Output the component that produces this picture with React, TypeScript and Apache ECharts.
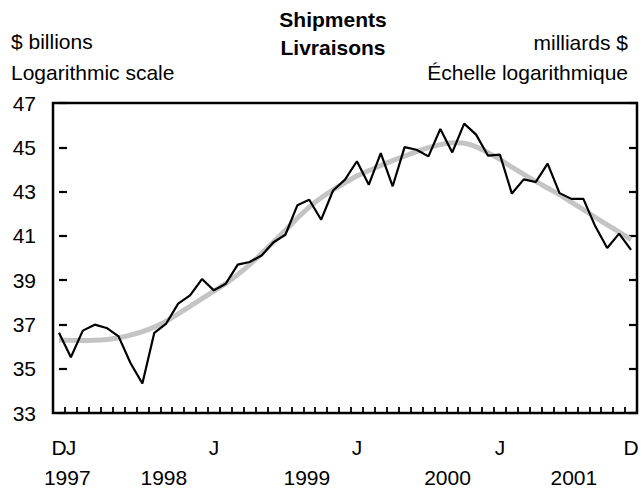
import React, { useEffect, useRef } from 'react';
import * as echarts from 'echarts';

// Monthly categories, Dec 1997 to Dec 2001
const months: string[] = (() => {
  const out: string[] = ['1997-12'];
  for (let y = 1998; y <= 2001; y++) {
    for (let m = 1; m <= 12; m++) out.push(`${y}-${m < 10 ? '0' + m : m}`);
  }
  return out;
})();

// Shipments, $ billions (monthly)
const shipments: number[] = [
  36.62, 35.52, 36.72, 36.99, 36.84, 36.46, 35.26, 34.33, 36.62, 37.04,
  37.94, 38.31, 39.05, 38.54, 38.84, 39.70, 39.82, 40.11, 40.71, 41.05,
  42.38, 42.63, 41.73, 43.05, 43.54, 44.37, 43.31, 44.74, 43.24, 45.01,
  44.89, 44.59, 45.83, 44.77, 46.07, 45.57, 44.62, 44.67, 42.91, 43.55,
  43.43, 44.26, 42.93, 42.67, 42.67, 41.43, 40.45, 41.10, 40.37,
];

// Trend-cycle (grey line)
const trend: number[] = [
  36.30, 36.28, 36.27, 36.28, 36.32, 36.40, 36.52, 36.68, 36.88, 37.15,
  37.48, 37.82, 38.17, 38.50, 38.85, 39.25, 39.70, 40.20, 40.72, 41.25,
  41.80, 42.30, 42.72, 43.08, 43.40, 43.70, 43.95, 44.18, 44.40, 44.60,
  44.80, 44.98, 45.12, 45.20, 45.18, 45.02, 44.76, 44.45, 44.10, 43.78,
  43.46, 43.16, 42.86, 42.52, 42.18, 41.84, 41.50, 41.17, 40.83,
];

const yearLabels: string[] = ['1997', '1998', '1999', '2000', '2001'];
const yTicks = { min: 33, max: 47, interval: 2 };

const FONT = '"Liberation Sans", Arial, sans-serif';
const FS = 21;

export default function App() {
  const ref = useRef<HTMLDivElement>(null);
  useEffect(() => {
    if (!ref.current) return;
    const chart = echarts.init(ref.current, null, { renderer: 'svg' });
    const yearPos = [0.7, 8.8, 20.8, 32.6, 43.2];
    const textEl = (text: string, x: number, y: number, align: string, bold = false) => ({
      type: 'text',
      x,
      y,
      style: {
        text,
        fill: '#000',
        font: `${bold ? 'bold ' : ''}${FS}px ${FONT}`,
        align,
        verticalAlign: 'middle',
      },
    });
    chart.setOption({
      animation: false,
      backgroundColor: '#fff',
      textStyle: { fontFamily: FONT },
      grid: {
        left: 53,
        right: 5,
        top: 103,
        bottom: 80,
        show: true,
        borderColor: '#000',
        borderWidth: 2.5,
      },
      graphic: [
        textEl('$ billions', 11, 41, 'left'),
        textEl('Logarithmic scale', 11, 72, 'left'),
        textEl('Shipments', 333, 19, 'center', true),
        textEl('Livraisons', 333, 47, 'center', true),
        textEl('milliards $', 628, 42, 'right'),
        textEl('Échelle logarithmique', 628, 72, 'right'),
      ],
      xAxis: [
        {
          type: 'category',
          data: months,
          boundaryGap: true,
          axisLine: { show: false },
          axisTick: {
            show: true,
            inside: true,
            length: 6,
            interval: 0,
            lineStyle: { color: '#000', width: 1.8 },
          },
          axisLabel: {
            interval: 0,
            margin: 24,
            color: '#000',
            fontSize: FS,
            fontFamily: FONT,
            formatter: (v: string, i: number) => {
              if (i === 0 || i === months.length - 1) return 'D';
              return v.endsWith('-01') ? 'J' : '';
            },
          },
          splitLine: { show: false },
        },
        {
          type: 'value',
          position: 'bottom',
          min: -0.5,
          max: months.length - 0.5,
          offset: 30,
          axisLine: { show: false },
          axisTick: { show: false },
          splitLine: { show: false },
          axisLabel: {
            customValues: yearPos,
            margin: 24,
            color: '#000',
            fontSize: FS,
            fontFamily: FONT,
            formatter: (v: number) => {
              let best = 0;
              yearPos.forEach((p, k) => {
                if (Math.abs(p - v) < Math.abs(yearPos[best] - v)) best = k;
              });
              return yearLabels[best];
            },
          },
        },
      ],
      yAxis: [
        {
          type: 'value',
          min: yTicks.min,
          max: yTicks.max,
          interval: yTicks.interval,
          axisLine: { show: false },
          axisTick: { show: true, inside: true, length: 8, lineStyle: { color: '#000', width: 2.2 } },
          axisLabel: { margin: 17, color: '#000', fontSize: FS, fontFamily: FONT },
          splitLine: { show: false },
        },
        {
          type: 'value',
          position: 'right',
          min: yTicks.min,
          max: yTicks.max,
          interval: yTicks.interval,
          axisLine: { show: false },
          axisTick: { show: true, inside: true, length: 8, lineStyle: { color: '#000', width: 2.2 } },
          axisLabel: { show: false },
          splitLine: { show: false },
        },
      ],
      series: [
        {
          name: 'Trend',
          type: 'line',
          data: trend,
          smooth: 0.3,
          showSymbol: false,
          lineStyle: { color: '#c4c4c4', width: 5 },
          z: 2,
        },
        {
          name: 'Shipments',
          type: 'line',
          data: shipments,
          showSymbol: false,
          lineStyle: { color: '#000', width: 2.2 },
          z: 3,
        },
      ],
    });
    return () => chart.dispose();
  }, []);
  return (
    <div
      ref={ref}
      style={{ position: 'fixed', left: 0, top: 0, width: 642, height: 493 }}
    />
  );
}
